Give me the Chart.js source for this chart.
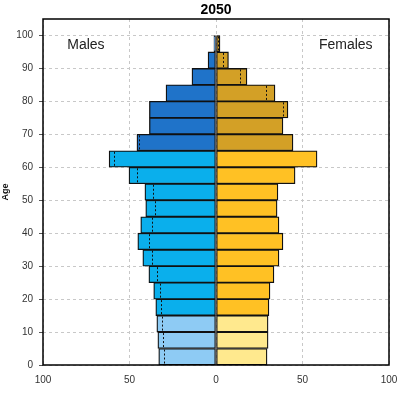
<!DOCTYPE html>
<html>
<head>
<meta charset="utf-8">
<script src="https://cdn.jsdelivr.net/npm/chart.js@4"></script>
<style>
  html, body { margin: 0; padding: 0; background: #fff; }
  #wrap { width: 401px; height: 396px; }
</style>
</head>
<body>
<div id="wrap"><canvas id="pyramid"></canvas></div>
<script>
// age groups (lower bound of each 5-year band)
const ageGroups = [0, 5, 10, 15, 20, 25, 30, 35, 40, 45, 50, 55, 60, 65, 70, 75, 80, 85, 90, 95];

// 2050 population per band
const males = [33.1, 33.6, 34.2, 34.8, 36.0, 38.8, 42.3, 45.2, 43.5, 40.6, 41.1, 50.3, 61.8, 45.7, 38.5, 38.5, 28.9, 13.9, 4.6, 1.2];
const females = [29.5, 30.1, 30.1, 30.6, 31.2, 33.5, 36.4, 38.7, 36.4, 35.3, 35.8, 45.7, 58.4, 44.5, 38.7, 41.6, 34.1, 17.9, 7.2, 2.3];

// comparison values drawn as dotted marks
const malesRef = [30.1, 30.6, 31.0, 31.6, 32.4, 34.1, 36.8, 38.7, 36.8, 35.3, 36.4, 45.7, 59.0, 44.5, null, null, null, null, null, null];
const femalesRef = [null, null, null, null, null, null, null, null, null, null, null, null, null, null, 38.0, 38.7, 28.9, 13.9, 4.0, 1.4];

const yTicks = [0, 10, 20, 30, 40, 50, 60, 70, 80, 90, 100];
const xTicks = [-100, -50, 0, 50, 100];

function maleColor(age) {
  if (age < 15) return '#8ecbf4';
  if (age < 65) return '#0aafec';
  return '#1f73c9';
}
function femaleColor(age) {
  if (age < 15) return '#ffe98e';
  if (age < 65) return '#ffc124';
  return '#d3a026';
}

const extras = {
  id: 'extras',
  afterDatasetsDraw(chart) {
    const { ctx, chartArea: a, scales: { x, y } } = chart;
    ctx.save();
    // dotted comparison marks
    ctx.strokeStyle = '#111';
    ctx.lineWidth = 1;
    ctx.setLineDash([2, 2]);
    ageGroups.forEach((age, i) => {
      const yTop = y.getPixelForValue(age + 5) + 1;
      const yBot = y.getPixelForValue(age) - 1;
      [[malesRef[i], -1], [femalesRef[i], 1]].forEach(([v, s]) => {
        if (v === null) return;
        const px = Math.round(x.getPixelForValue(s * v)) + 0.5;
        ctx.beginPath();
        ctx.moveTo(px, yTop);
        ctx.lineTo(px, yBot);
        ctx.stroke();
      });
    });
    ctx.setLineDash([]);
    // frame
    ctx.strokeStyle = '#000';
    ctx.lineWidth = 1.5;
    ctx.strokeRect(a.left, a.top, a.right - a.left, a.bottom - a.top);
    // texts
    ctx.fillStyle = '#000';
    ctx.font = 'bold 14px "Liberation Sans", Arial, sans-serif';
    ctx.textAlign = 'center';
    ctx.textBaseline = 'middle';
    ctx.fillText('2050', (a.left + a.right) / 2, 10);
    ctx.fillStyle = '#222';
    ctx.font = '14px "Liberation Sans", Arial, sans-serif';
    ctx.textAlign = 'left';
    ctx.fillText('Males', x.getPixelForValue(-86), y.getPixelForValue(97));
    ctx.textAlign = 'right';
    ctx.fillText('Females', x.getPixelForValue(90.5), y.getPixelForValue(97));
    ctx.restore();
  }
};

new Chart(document.getElementById('pyramid'), {
  type: 'bar',
  data: {
    datasets: [
      {
        label: 'Males',
        data: ageGroups.map((age, i) => ({ x: -males[i], y: age + 2.5 })),
        backgroundColor: ageGroups.map(maleColor),
        borderColor: '#111',
        borderWidth: 1.3,
        borderSkipped: false
      },
      {
        label: 'Females',
        data: ageGroups.map((age, i) => ({ x: females[i], y: age + 2.5 })),
        backgroundColor: ageGroups.map(femaleColor),
        borderColor: '#111',
        borderWidth: 1.3,
        borderSkipped: false
      }
    ]
  },
  options: {
    indexAxis: 'y',
    responsive: true,
    maintainAspectRatio: false,
    animation: false,
    grouped: false,
    barPercentage: 1,
    categoryPercentage: 1,
    layout: { padding: { top: 19, right: 12, left: 0, bottom: 0 } },
    plugins: {
      legend: { display: false },
      tooltip: { enabled: false },
      title: { display: false }
    },
    scales: {
      x: {
        type: 'linear',
        min: -100,
        max: 100,
        afterBuildTicks: (s) => { s.ticks = xTicks.map(v => ({ value: v })); },
        afterFit: (s) => {
          s.height = 31;
          s.paddingLeft = 0;
          s.paddingRight = 0;
        },
        ticks: {
          callback: (v) => Math.abs(v),
          color: '#333',
          padding: 9,
          maxRotation: 0,
          font: { family: '"Liberation Sans", Arial, sans-serif', size: 10 }
        },
        grid: {
          color: '#c8c8c8',
          drawTicks: false
        },
        border: { display: false, dash: [3, 3] }
      },
      y: {
        type: 'linear',
        min: 0,
        max: 105,
        offset: false,
        afterBuildTicks: (s) => { s.ticks = yTicks.map(v => ({ value: v })); },
        afterFit: (s) => {
          s.width = 43;
          s.paddingTop = 0;
          s.paddingBottom = 0;
        },
        ticks: {
          color: '#333',
          padding: 6,
          font: { family: '"Liberation Sans", Arial, sans-serif', size: 10 }
        },
        grid: {
          color: '#c8c8c8',
          offset: false,
          tickLength: 4,
          tickColor: '#555'
        },
        border: { display: false, dash: [3, 3] },
        title: {
          display: true,
          text: 'Age',
          color: '#111',
          padding: 0,
          font: { family: '"Liberation Sans", Arial, sans-serif', size: 9, weight: 'bold' }
        }
      }
    }
  },
  plugins: [extras]
});
</script>
</body>
</html>
